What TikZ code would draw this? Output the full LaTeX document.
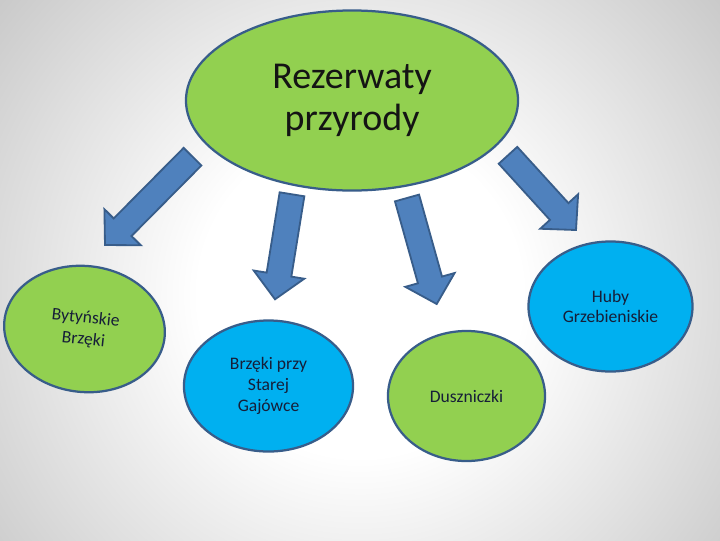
\documentclass[tikz,border=0pt]{standalone}
\usepackage{fontspec}
\setmainfont{Carlito}
\usetikzlibrary{positioning,calc,shapes.geometric}
\definecolor{leafgreen}{RGB}{146,208,80}
\definecolor{skyblue}{RGB}{0,176,240}
\definecolor{arrowblue}{RGB}{79,129,189}
\definecolor{rimblue}{RGB}{56,93,138}
\definecolor{inkblue}{RGB}{22,30,56}
\pgfdeclareradialshading{slidebg}{\pgfpoint{0bp}{0bp}}{color(0bp)=(white); color(9bp)=(white); color(30bp)=(black!26); color(40bp)=(black!37); color(51bp)=(black!44)}
% block arrow from #1 (tail) to #2 (tip)
\newcommand{\blockarrow}[2]{%
  \coordinate (#1-h) at ($(#2)!0.625cm!(#1)$);
  \filldraw[fill=arrowblue,draw=rimblue,line width=1.3pt,line join=miter]
    ($(#1)!0.3125cm!90:(#2)$) -- ($(#1-h)!0.3125cm!90:(#2)$) -- ($(#1-h)!0.64cm!90:(#2)$) -- (#2)
    -- ($(#1-h)!0.64cm!-90:(#2)$) -- ($(#1-h)!0.3125cm!-90:(#2)$) -- ($(#1)!0.3125cm!-90:(#2)$) -- cycle;}

\begin{document}
\begin{tikzpicture}[x=0.025cm,y=-0.025cm,
  bubble/.style={ellipse,draw=rimblue,line width=1.6pt,inner sep=0pt,align=center,text=inkblue,font=\fontsize{12.5}{14.7}\selectfont}]
\useasboundingbox (0,0) rectangle (720,540);
\begin{scope}
\clip (0,0) rectangle (720,540);
\shade[shading=slidebg] (-90,-155) rectangle (810,745);
\end{scope}
\node[bubble,fill=leafgreen,minimum width=8.3cm,minimum height=4.5cm,text=black!92,font=\fontsize{27}{30}\selectfont] (rez) at (352,100.5) {Rezerwaty\\przyrody};
\node[bubble,fill=leafgreen,minimum width=4.025cm,minimum height=3.15cm,rotate=-6,font=\fontsize{12.5}{15.5}\selectfont] (byt) at (84.5,329) {Bytyńskie\\Brzęki};
\node[bubble,fill=skyblue,minimum width=4.225cm,minimum height=3.275cm] (gaj) at (268.5,386) {Brzęki przy\\Starej\\Gajówce};
\node[bubble,fill=leafgreen,minimum width=3.925cm,minimum height=3.25cm] (dus) at (466.5,396) {Duszniczki};
\node[bubble,fill=skyblue,minimum width=4.1cm,minimum height=3.25cm] (hub) at (610.5,306.5) {Huby\\Grzebieniskie};
\coordinate (from-byt) at (192.5,156.7); \coordinate (to-byt) at (105,245);
\coordinate (from-gaj) at (292,194.3); \coordinate (to-gaj) at (275,299.3);
\coordinate (from-dus) at (407,198); \coordinate (to-dus) at (436.7,304);
\coordinate (from-hub) at (508,155.3); \coordinate (to-hub) at (576,230);
\blockarrow{from-byt}{to-byt}
\blockarrow{from-gaj}{to-gaj}
\blockarrow{from-dus}{to-dus}
\blockarrow{from-hub}{to-hub}
\end{tikzpicture}
\end{document}
